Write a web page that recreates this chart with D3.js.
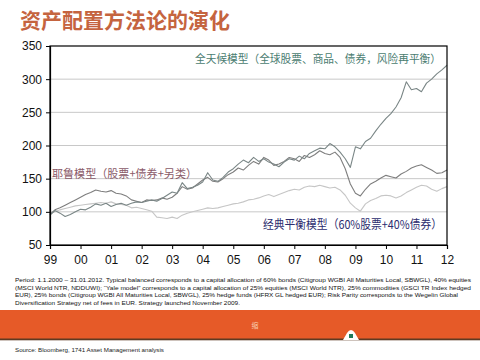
<!DOCTYPE html>
<html><head><meta charset="utf-8">
<script src="https://cdn.jsdelivr.net/npm/d3@7"></script>
<style>
html,body{margin:0;padding:0;background:#fff;}
svg{display:block;}
</style></head>
<body>
<script>
// ---- data ----
const dates = ["1999-01","1999-03","1999-05","1999-07","1999-09","1999-11",
"2000-01","2000-03","2000-05","2000-07","2000-09","2000-11",
"2001-01","2001-03","2001-05","2001-07","2001-09","2001-11",
"2002-01","2002-03","2002-05","2002-07","2002-09","2002-11",
"2003-01","2003-03","2003-05","2003-07","2003-09","2003-11",
"2004-01","2004-03","2004-05","2004-07","2004-09","2004-11",
"2005-01","2005-03","2005-05","2005-07","2005-09","2005-11",
"2006-01","2006-03","2006-05","2006-07","2006-09","2006-11",
"2007-01","2007-03","2007-05","2007-07","2007-09","2007-11",
"2008-01","2008-03","2008-05","2008-07","2008-09","2008-11",
"2009-01","2009-03","2009-05","2009-07","2009-09","2009-11",
"2010-01","2010-03","2010-05","2010-07","2010-09","2010-11",
"2011-01","2011-03","2011-05","2011-07","2011-09","2011-11",
"2012-01"];

const riskParity = [95,102,98,93,96,100, 104,103,107,112,110,113, 108,111,113,110,113,115,
 114,116,118,116,120,125, 130,128,144,135,137,140, 145,159,148,146,152,160,
 165,172,178,174,182,176, 180,175,172,168,175,180, 178,184,180,188,192,196,
 195,203,198,190,180,167, 198,195,206,211,222,232, 241,248,258,272,296,284,
 286,281,294,300,308,314, 321];

const yaleModel = [96,103,106,110,114,118, 122,126,129,133,131,130, 132,128,127,124,118,116,
 114,118,117,118,121,119, 122,128,138,134,136,142, 148,152,146,145,150,156,
 160,166,163,170,176,172, 182,178,170,172,176,182, 180,176,185,182,186,192,
 188,186,190,182,165,142, 128,124,134,142,146,151, 155,153,151,157,161,166,
 169,171,167,163,158,159, 163];

const balanced = [97,100,103,105,107,109, 110,111,112,113,114,113, 115,112,111,110,106,107,
 105,103,101,92,91,90, 92,90,95,98,100,102, 104,106,105,106,108,110,
 112,113,115,118,119,121, 124,126,123,126,129,132, 134,133,137,139,138,140,
 138,136,137,133,125,113, 106,101,112,117,120,124, 125,124,121,124,129,133,
 137,140,139,134,131,135, 138];

const yTicks = [50,100,150,200,250,300,350];
const xTickYears = [1999,2000,2001,2002,2003,2004,2005,2006,2007,2008,2009,2010,2011,2012];
const xTickLabels = ["99","00","01","02","03","04","05","06","07","08","09","10","11","12"];

const title = "资产配置方法论的演化";
const labelRP = "全天候模型（全球股票、商品、债券，风险再平衡）";
const labelYale = "耶鲁模型（股票+债券+另类）";
const labelBal = "经典平衡模型（60%股票+40%债券）";
const footLines = [
 "Period: 1.1.2000 – 31.01.2012. Typical balanced corresponds to a capital allocation of 60% bonds (Citigroup WGBI All Maturities Local, SBWGL), 40% equities",
 "(MSCI World NTR, NDDUWI);   \u201CYale model\u201D  corresponds to a capital allocation of  25% equities (MSCI World NTR), 25% commodities (GSCI TR Index hedged",
 "EUR), 25% bonds (Citigroup WGBI All Maturities Local, SBWGL), 25% hedge funds (HFRX GL hedged EUR); Risk Parity corresponds to the Wegelin Global",
 "Diversification Strategy net of fees in EUR. Strategy  launched November 2009."
];
const source = "Source: Bloomberg, 1741 Asset Management analysis";

// ---- drawing ----
const W = 480, H = 360;
const svg = d3.select("body").append("svg").attr("width", W).attr("height", H);
svg.append("rect").attr("width", W).attr("height", H).attr("fill", "#fff");

const m = {left: 50, right: 447, top: 46, bottom: 245};
const parse = d3.timeParse("%Y-%m");
const x = d3.scaleTime().domain([new Date(1999,0,1), new Date(2012,0,1)]).range([m.left, m.right]);
const y = d3.scaleLinear().domain([50, 350]).range([m.bottom, m.top]);

// title
svg.append("text").attr("x", 20).attr("y", 28)
  .attr("font-family", "'Noto Sans CJK SC', sans-serif").attr("font-weight", "bold")
  .attr("font-size", 21).attr("fill", "#c5643f").text(title);

// grid
svg.append("g").selectAll("line").data(yTicks.filter(d => d > 50 && d < 350)).join("line")
  .attr("x1", m.left).attr("x2", m.right)
  .attr("y1", d => y(d)).attr("y2", d => y(d))
  .attr("stroke", "#c8c8c8").attr("stroke-width", 1);

// lines
const pts = arr => arr.map((v, i) => [parse(dates[i]), v]);
const line = d3.line().x(d => x(d[0])).y(d => y(d[1]));
const series = [
  {data: balanced, color: "#c6c6c6"},
  {data: yaleModel, color: "#7e7e7e"},
  {data: riskParity, color: "#7a8686"}
];
svg.append("g").selectAll("path").data(series).join("path")
  .attr("d", d => line(pts(d.data)))
  .attr("fill", "none").attr("stroke", d => d.color).attr("stroke-width", 1.1)
  .attr("stroke-linejoin", "round");

// frame
svg.append("rect").attr("x", m.left).attr("y", m.top)
  .attr("width", m.right - m.left).attr("height", m.bottom - m.top)
  .attr("fill", "none").attr("stroke", "#000").attr("stroke-width", 1.2);

// axes
const yAxis = d3.axisLeft(y).tickValues(yTicks).tickSize(4).tickPadding(4);
const gy = svg.append("g").attr("transform", `translate(${m.left},0)`).call(yAxis);
const xAxis = d3.axisBottom(x).tickValues(xTickYears.map(yr => new Date(yr,0,1)))
  .tickFormat((d, i) => xTickLabels[i]).tickSize(4).tickPadding(6);
const gx = svg.append("g").attr("transform", `translate(0,${m.bottom})`).call(xAxis);
[gx, gy].forEach(g => {
  g.select(".domain").attr("stroke", "#000").attr("stroke-width", 1.2);
  g.selectAll(".tick line").attr("stroke", "#000");
  g.selectAll(".tick text").attr("font-family", "'Liberation Sans', Arial, sans-serif")
    .attr("font-size", 12).attr("fill", "#111");
});

// series labels
const cjk = "'Noto Sans CJK SC', sans-serif";
svg.append("text").attr("x", 195).attr("y", 63)
  .attr("font-family", cjk).attr("font-size", 11).attr("fill", "#4a7c70")
  .attr("textLength", 246).attr("lengthAdjust", "spacingAndGlyphs").text(labelRP);
svg.append("text").attr("x", 52).attr("y", 178)
  .attr("font-family", cjk).attr("font-size", 11.5).attr("fill", "#8a5a68")
  .attr("textLength", 145).attr("lengthAdjust", "spacingAndGlyphs").text(labelYale);
svg.append("text").attr("x", 263).attr("y", 229)
  .attr("font-family", cjk).attr("font-size", 12).attr("fill", "#2c2c6e")
  .attr("textLength", 179).attr("lengthAdjust", "spacingAndGlyphs").text(labelBal);

// footnote
const foot = svg.append("g").attr("font-family", "'Liberation Sans', Arial, sans-serif")
  .attr("font-size", 6).attr("fill", "#111");
const footW = [456, 456, 443, 225];
footLines.forEach((t, i) => {
  foot.append("text").attr("x", 15).attr("y", 282 + i * 7.7)
    .attr("textLength", footW[i]).attr("lengthAdjust", "spacingAndGlyphs").text(t);
});

// orange band
svg.append("rect").attr("x", 0).attr("y", 310).attr("width", W).attr("height", 30).attr("fill", "#e65a28");
svg.append("rect").attr("x", 0).attr("y", 338.5).attr("width", W).attr("height", 1.8).attr("fill", "#5e3a22");
svg.append("text").attr("x", 255).attr("y", 328).attr("text-anchor", "middle")
  .attr("font-family", cjk).attr("font-size", 7).attr("fill", "#f6c8a8").text("缩");
// small logo
svg.append("path").attr("d", "M343,340 L347,333 Q351,327 355,333 L359,340 Z").attr("fill", "#fff");
svg.append("rect").attr("x", 349).attr("y", 334).attr("width", 4).attr("height", 4).attr("fill", "#1f7a5a");

svg.append("text").attr("x", 15).attr("y", 352)
  .attr("font-family", "'Liberation Sans', Arial, sans-serif").attr("font-size", 6.2)
  .attr("fill", "#222").text(source);
</script>
</body></html>
